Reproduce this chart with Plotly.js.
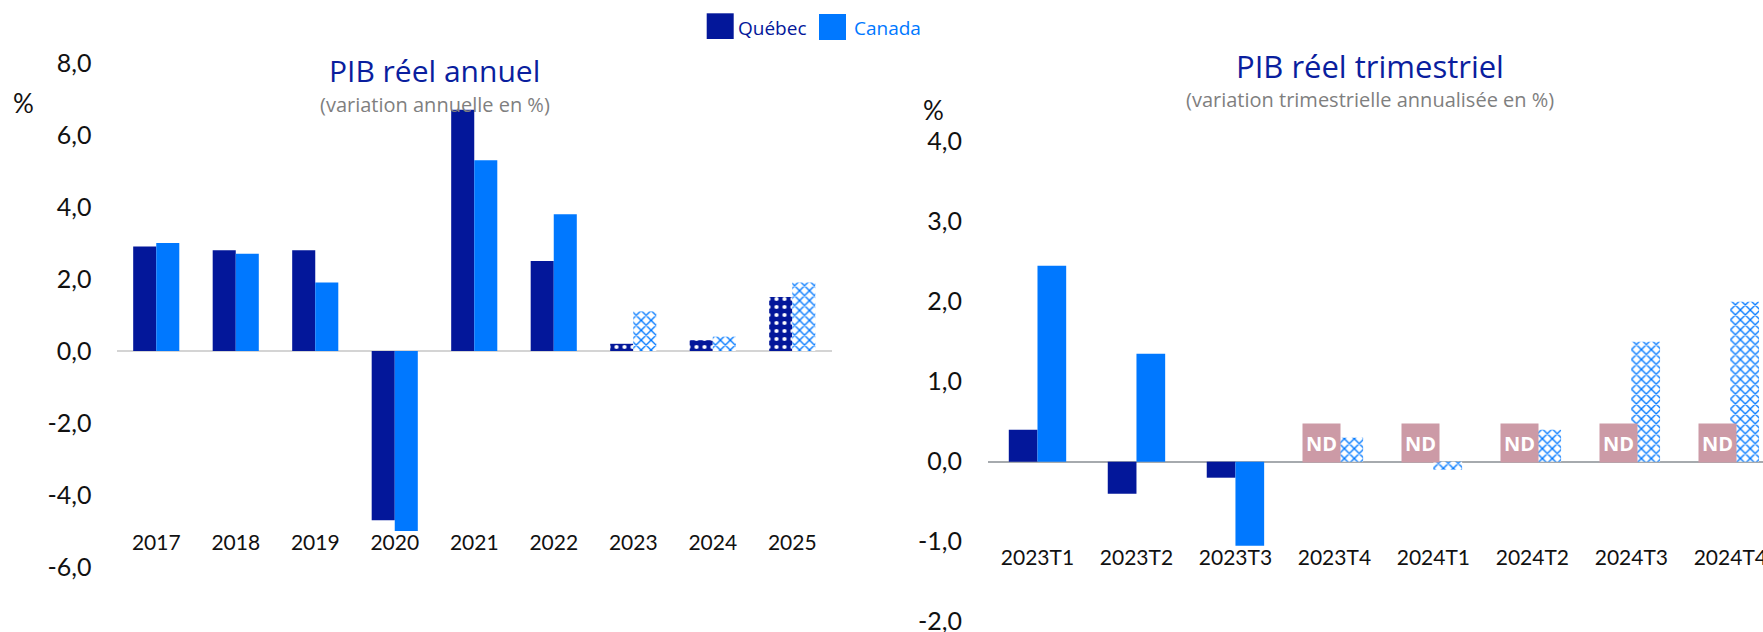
<!DOCTYPE html>
<html>
<head>
<meta charset="utf-8">
<script src="https://cdn.plot.ly/plotly-3.0.1.min.js"></script>
<style>html,body{margin:0;padding:0;background:#fff;}#chart{width:1763px;height:632px;}</style>
</head>
<body>
<div id="chart"></div>
<script>
// ---- Data ----
const years = ["2017","2018","2019","2020","2021","2022","2023","2024","2025"];
const quebecAnnual = [2.9, 2.8, 2.8, -4.7, 6.7, 2.5, 0.2, 0.3, 1.5];
const canadaAnnual = [3.0, 2.7, 1.9, -5.0, 5.3, 3.8, 1.1, 0.4, 1.9];
const annualForecast = [false, false, false, false, false, false, true, true, true];

const quarters = ["2023T1","2023T2","2023T3","2023T4","2024T1","2024T2","2024T3","2024T4"];
const quebecQuarterly = [0.4, -0.4, -0.2, null, null, null, null, null];
const canadaQuarterly = [2.45, 1.35, -1.05, 0.3, -0.1, 0.4, 1.5, 2.0];
const quarterlyForecast = [false, false, false, true, true, true, true, true];
const quebecQuarterlyLabels = ["", "", "", "ND", "ND", "ND", "ND", "ND"];

const annualTickVals = [-6, -4, -2, 0, 2, 4, 6, 8];
const annualTickText = ["-6,0", "-4,0", "-2,0", "0,0", "2,0", "4,0", "6,0", "8,0"];
const quarterlyTickVals = [-2, -1, 0, 1, 2, 3, 4];
const quarterlyTickText = ["-2,0", "-1,0", "0,0", "1,0", "2,0", "3,0", "4,0"];

// ---- Style ----
const NAVY = "#03179A";
const BLUE = "#0078FF";
const TICKFONT = "Lato, 'Open Sans', sans-serif";
const TEXTFONT = "'Open Sans', 'Noto Sans', sans-serif";

function qcPattern(flags) {
  return {
    shape: flags.map(f => f ? "." : ""),
    bgcolor: NAVY, fgcolor: "#ffffff", size: 8, solidity: 0.22, fillmode: "replace"
  };
}
function caPattern(flags) {
  return {
    shape: flags.map(f => f ? "x" : ""),
    bgcolor: "#ffffff", fgcolor: BLUE, size: 7, solidity: 0.35, fillmode: "replace"
  };
}

const traces = [
  {type: "bar", name: "Québec", x: years, y: quebecAnnual, xaxis: "x", yaxis: "y",
   marker: {color: NAVY, line: {width: 0}, pattern: qcPattern(annualForecast)}, showlegend: false, hoverinfo: "x+y"},
  {type: "bar", name: "Canada", x: years, y: canadaAnnual, xaxis: "x", yaxis: "y",
   marker: {color: BLUE, line: {width: 0}, pattern: caPattern(annualForecast)}, showlegend: false, hoverinfo: "x+y"},
  {type: "bar", name: "Québec", x: quarters, y: quebecQuarterly, xaxis: "x2", yaxis: "y2",
   marker: {color: NAVY, line: {width: 0}}, showlegend: false, hoverinfo: "x+y"},
  {type: "bar", name: "Canada", x: quarters, y: canadaQuarterly, xaxis: "x2", yaxis: "y2",
   marker: {color: BLUE, line: {width: 0}, pattern: caPattern(quarterlyForecast)}, showlegend: false, hoverinfo: "x+y"}
];

const W = 1763, H = 632;
const px = v => v / W;
const py = v => 1 - v / H;

const annotations = [
  // titles
  {text: "PIB réel annuel", x: px(434.6), y: py(70), xref: "paper", yref: "paper", showarrow: false,
   xanchor: "center", yanchor: "middle", font: {family: TEXTFONT, size: 30, color: "#0A1E9E"}},
  {text: "(variation annuelle en %)", x: px(434.6), y: py(104), xref: "paper", yref: "paper", showarrow: false,
   xanchor: "center", yanchor: "middle", font: {family: TEXTFONT, size: 20, color: "#7F7F7F"}},
  {text: "PIB réel trimestriel", x: px(1370), y: py(66), xref: "paper", yref: "paper", showarrow: false,
   xanchor: "center", yanchor: "middle", font: {family: TEXTFONT, size: 31, color: "#0A1E9E"}},
  {text: "(variation trimestrielle annualisée en %)", x: px(1370), y: py(100), xref: "paper", yref: "paper", showarrow: false,
   xanchor: "center", yanchor: "middle", font: {family: TEXTFONT, size: 20, color: "#7F7F7F"}},
  // % unit labels
  {text: "%", x: px(23), y: py(103), xref: "paper", yref: "paper", showarrow: false,
   xanchor: "center", yanchor: "middle", font: {family: TICKFONT, size: 26, color: "#111"}},
  {text: "%", x: px(933), y: py(110), xref: "paper", yref: "paper", showarrow: false,
   xanchor: "center", yanchor: "middle", font: {family: TICKFONT, size: 26, color: "#111"}},
  // legend texts
  {text: "Québec", x: px(736), y: py(28), xref: "paper", yref: "paper", showarrow: false,
   xanchor: "left", yanchor: "middle", font: {family: TEXTFONT, size: 19, color: NAVY}},
  {text: "Canada", x: px(852), y: py(28), xref: "paper", yref: "paper", showarrow: false,
   xanchor: "left", yanchor: "middle", font: {family: TEXTFONT, size: 19, color: BLUE}}
];

quebecQuarterlyLabels.forEach((lab, i) => {
  if (lab) {
    annotations.push({
      text: "<b>" + lab + "</b>", x: quarters[i], y: 0.24, xref: "x2", yref: "y2",
      showarrow: false, xanchor: "center", yanchor: "middle", xshift: -13,
      width: 37, height: 38, borderpad: 0, bgcolor: "#CC9AA6",
      font: {family: TEXTFONT, size: 20, color: "#ffffff"}
    });
  }
});

const shapes = [
  {type: "rect", xref: "paper", yref: "paper", x0: px(706.7), x1: px(733.7), y0: py(39), y1: py(13.3),
   fillcolor: NAVY, line: {width: 0}},
  {type: "rect", xref: "paper", yref: "paper", x0: px(819), x1: px(846), y0: py(40), y1: py(14),
   fillcolor: BLUE, line: {width: 0}}
];

const layout = {
  width: W, height: H,
  margin: {l: 0, r: 0, t: 0, b: 0, pad: 0},
  paper_bgcolor: "#ffffff", plot_bgcolor: "rgba(0,0,0,0)",
  showlegend: false,
  barmode: "group", bargap: 0.42, bargroupgap: 0,
  xaxis: {
    domain: [px(116.5), px(832)], range: [-0.5, 8.5], type: "category",
    anchor: "free", position: py(528), showline: false, showgrid: false, zeroline: false,
    ticks: "", tickfont: {family: TICKFONT, size: 21, color: "#111"}, automargin: false, fixedrange: true
  },
  yaxis: {
    domain: [py(567), py(63)], range: [-6, 8], anchor: "x",
    tickvals: annualTickVals, ticktext: annualTickText, ticklabeloverflow: "allow",
    showline: false, showgrid: false, zeroline: true, zerolinecolor: "#D4D4D4", zerolinewidth: 2,
    ticks: "", ticklabelstandoff: 24, tickfont: {family: TICKFONT, size: 25, color: "#111"}, automargin: false, fixedrange: true
  },
  xaxis2: {
    domain: [px(988), 1], range: [-0.5, 7.33], type: "category",
    anchor: "free", position: py(543), showline: false, showgrid: false, zeroline: false,
    ticks: "", tickfont: {family: TICKFONT, size: 21, color: "#111"}, automargin: false, fixedrange: true
  },
  yaxis2: {
    domain: [py(621.7), py(141.7)], range: [-2, 4], anchor: "x2",
    tickvals: quarterlyTickVals, ticktext: quarterlyTickText, ticklabeloverflow: "allow",
    showline: false, showgrid: false, zeroline: true, zerolinecolor: "#A6AAAE", zerolinewidth: 2,
    ticks: "", ticklabelstandoff: 25, tickfont: {family: TICKFONT, size: 25, color: "#111"}, automargin: false, fixedrange: true
  },
  annotations: annotations,
  shapes: shapes
};

Plotly.newPlot("chart", traces, layout, {displayModeBar: false, staticPlot: true});
</script>
</body>
</html>
